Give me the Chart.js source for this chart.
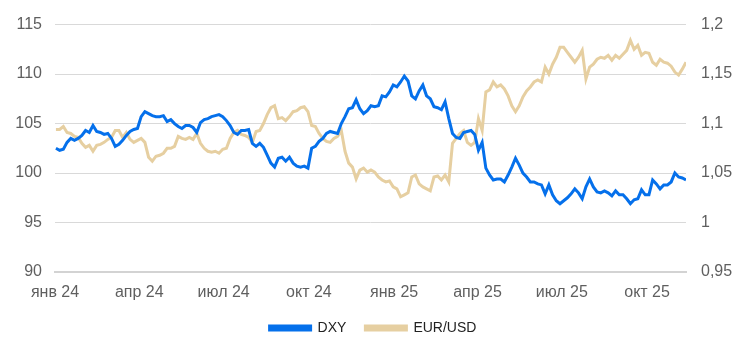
<!DOCTYPE html>
<html>
<head>
<meta charset="utf-8">
<script src="https://cdn.jsdelivr.net/npm/chart.js@4/dist/chart.umd.min.js"></script>
<style>
html,body{margin:0;padding:0;background:#fff;}
#wrap{width:746px;height:355px;position:relative;}
</style>
</head>
<body>
<div id="wrap"><canvas id="c" width="746" height="355"></canvas></div>
<script>
// Observation schedule: day offset from 1 Jan 2024, one reading every 4 days
const startDay = 1;
const stepDays = 4;

// DXY index (left axis)
const dxy = [102.5,102.3,102.4,103.1,103.5,103.3,103.5,103.8,104.3,104.1,
104.8,104.2,104.1,103.9,104.0,103.5,102.7,102.9,103.3,103.8,
104.2,104.4,104.5,105.7,106.2,106.0,105.8,105.7,105.7,105.8,
105.2,105.4,105.0,104.7,104.5,104.8,104.8,104.6,104.1,105.1,
105.4,105.5,105.7,105.8,105.9,105.7,105.3,104.8,104.1,103.9,
104.3,104.3,104.4,103.0,102.7,103.0,102.6,101.8,101.0,100.6,
101.5,101.6,101.2,101.6,101.0,100.7,100.6,100.7,100.5,102.5,
102.7,103.2,103.5,104.0,104.2,104.1,104.0,105.0,105.7,106.5,
106.6,107.4,106.5,106.0,106.3,106.8,
106.7,106.8,107.8,107.7,108.2,108.9,108.7,109.2,109.8,109.3,
107.8,107.5,108.3,108.9,107.8,107.5,106.7,106.6,106.4,107.2,
105.5,104.0,103.6,103.5,104.1,104.2,104.3,103.9,102.3,103.1,
100.5,99.8,99.3,99.4,99.4,99.1,99.8,100.6,101.5,100.8,
100.0,99.6,99.1,99.1,98.9,98.8,97.9,98.8,97.8,97.2,
96.9,97.2,97.5,97.9,98.4,98.0,97.4,98.6,99.4,98.6,
98.1,98.0,98.2,98.0,97.7,98.2,97.8,97.8,97.4,96.9,
97.3,97.4,98.3,97.8,97.8,99.3,98.9,98.4,98.8,98.8,
99.1,100.0,99.6,99.5,99.3];

// EUR/USD (right axis)
const eurusd = [1.094,1.094,1.097,1.091,1.090,1.087,1.086,1.080,1.076,1.078,
1.072,1.078,1.079,1.081,1.084,1.086,1.093,1.093,1.086,1.091,
1.084,1.081,1.083,1.085,1.081,1.066,1.062,1.067,1.068,1.070,
1.075,1.075,1.077,1.087,1.085,1.084,1.086,1.084,1.090,1.080,
1.075,1.072,1.071,1.072,1.070,1.074,1.075,1.085,1.091,1.093,
1.089,1.088,1.086,1.081,1.092,1.093,1.100,1.109,1.116,1.118,
1.105,1.106,1.103,1.107,1.112,1.113,1.116,1.117,1.112,1.098,
1.097,1.090,1.085,1.082,1.081,1.085,1.087,1.093,1.072,1.060,
1.056,1.044,1.053,1.055,1.051,1.053,
1.051,1.046,1.043,1.041,1.042,1.036,1.034,1.026,1.028,1.030,
1.046,1.048,1.039,1.036,1.034,1.032,1.046,1.047,1.043,1.048,
1.041,1.080,1.085,1.090,1.093,1.081,1.078,1.081,1.105,1.093,
1.132,1.134,1.142,1.137,1.139,1.135,1.128,1.118,1.112,1.118,
1.127,1.133,1.137,1.142,1.144,1.142,1.157,1.150,1.160,1.167,
1.177,1.177,1.172,1.167,1.162,1.167,1.174,1.145,1.157,1.160,
1.165,1.167,1.166,1.169,1.164,1.169,1.166,1.170,1.174,1.184,
1.175,1.179,1.169,1.172,1.171,1.162,1.159,1.165,1.162,1.161,
1.158,1.152,1.149,1.155,1.162];

// X tick positions (day offsets of quarter starts) and labels
const tickDays = [0, 91, 182, 274, 366, 456, 547, 639];
const tickLabels = ['янв 24','апр 24','июл 24','окт 24','янв 25','апр 25','июл 25','окт 25'];
const xMax = 681;

const days = dxy.map((_, i) => startDay + i * stepDays);
const dxyPts = dxy.map((v, i) => ({x: days[i], y: v}));
const eurPts = eurusd.map((v, i) => ({x: days[i], y: v}));

const FONT = '"Liberation Sans", Arial, sans-serif';
const TICK_COLOR = '#5f5f5f';

new Chart(document.getElementById('c'), {
  type: 'line',
  data: {
    datasets: [
      {label: 'DXY', data: dxyPts, yAxisID: 'y', borderColor: '#0570eb', backgroundColor: '#0570eb',
       borderWidth: 3, pointRadius: 0, tension: 0, order: 1},
      {label: 'EUR/USD', data: eurPts, yAxisID: 'y1', borderColor: '#e6cfa1', backgroundColor: '#e6cfa1',
       borderWidth: 3, pointRadius: 0, tension: 0, order: 2}
    ]
  },
  options: {
    responsive: false,
    animation: false,
    layout: {padding: {top: 12, bottom: 10, left: 0, right: 0}},
    plugins: {
      legend: {
        position: 'bottom',
        labels: {
          font: {family: FONT, size: 14},
          color: '#222',
          boxWidth: 41,
          boxHeight: 4,
          padding: 19
        }
      },
      tooltip: {enabled: false}
    },
    scales: {
      x: {
        type: 'linear',
        min: 0,
        max: xMax,
        afterBuildTicks: (axis) => { axis.ticks = tickDays.map(v => ({value: v})); },
        ticks: {
          autoSkip: false,
          maxRotation: 0,
          padding: 11,
          color: TICK_COLOR,
          font: {family: FONT, size: 16},
          callback: (v) => { const k = tickDays.indexOf(v); return k >= 0 ? tickLabels[k] : ''; }
        },
        grid: {display: false, drawTicks: false},
        border: {display: true, color: '#d3d3d3', width: 2},
        afterFit: (s) => { s.height = 30; }
      },
      y: {
        position: 'left',
        min: 90, max: 115,
        ticks: {stepSize: 5, padding: 13, color: TICK_COLOR, font: {family: FONT, size: 16}},
        grid: {color: '#d9d9d9', drawTicks: false, lineWidth: 1},
        border: {display: false},
        afterFit: (s) => { s.width = 55; }
      },
      y1: {
        position: 'right',
        min: 0.95, max: 1.2,
        ticks: {stepSize: 0.05, padding: 15, color: TICK_COLOR, font: {family: FONT, size: 16},
          callback: (v) => String(parseFloat(v.toFixed(2))).replace('.', ',')},
        grid: {display: false, drawTicks: false},
        border: {display: false},
        afterFit: (s) => { s.width = 60; }
      }
    }
  }
});
</script>
</body>
</html>
